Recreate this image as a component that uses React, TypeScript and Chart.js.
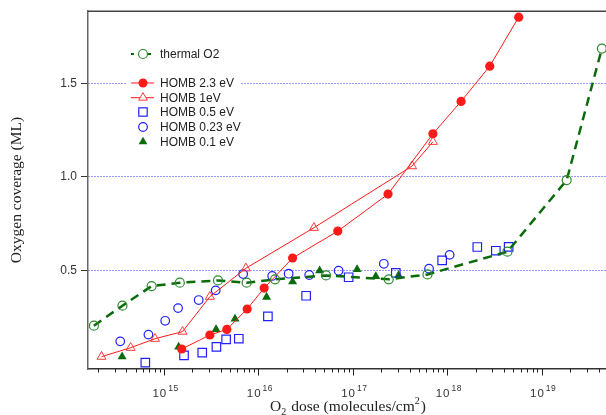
import React, { useEffect, useRef } from 'react';
import { Chart, registerables } from 'chart.js';

Chart.register(...registerables);

// ---- data (dose in molecules/cm^2, coverage in ML) ----
const thermalDose = [1.81e14, 3.63e14, 7.4e14, 1.47e15, 3.73e15, 7.5e15, 1.5e16, 5.2e16, 2.4e17, 6.17e17, 4.34e18, 1.84e19, 4.34e19];
const thermalCov = [0.204, 0.311, 0.416, 0.434, 0.446, 0.434, 0.452, 0.473, 0.452, 0.478, 0.6, 0.983, 1.687];

const homb23Dose = [1.54e15, 3.06e15, 4.63e15, 7.6e15, 1.15e16, 2.3e16, 6.93e16, 2.36e17, 7.05e17, 1.4e18, 2.82e18, 5.71e18];
const homb23Cov = [0.079, 0.154, 0.184, 0.293, 0.405, 0.566, 0.71, 0.908, 1.231, 1.404, 1.593, 1.855];

const homb1Dose = [2.18e14, 4.43e14, 8.03e14, 1.57e15, 3.06e15, 7.36e15, 3.87e16, 4.24e17, 7.05e17];
const homb1Cov = [0.038, 0.086, 0.134, 0.172, 0.359, 0.511, 0.728, 1.058, 1.188];

const homb05Dose = [6.34e14, 1.63e15, 2.54e15, 3.59e15, 4.55e15, 6.2e15, 1.26e16, 3.2e16, 9.03e16, 2.85e17, 8.83e17, 2.08e18, 3.27e18, 4.47e18];
const homb05Cov = [0.006, 0.045, 0.06, 0.09, 0.131, 0.134, 0.254, 0.364, 0.463, 0.487, 0.553, 0.625, 0.605, 0.626];

const homb023Dose = [3.44e14, 6.84e14, 1.03e15, 1.41e15, 2.33e15, 3.53e15, 6.89e15, 1.4e16, 2.09e16, 3.45e16, 7.06e16, 2.13e17, 6.41e17, 1.06e18];
const homb023Cov = [0.12, 0.156, 0.23, 0.298, 0.341, 0.393, 0.48, 0.47, 0.482, 0.475, 0.498, 0.535, 0.509, 0.583];

const homb01Dose = [3.6e14, 1.43e15, 3.56e15, 5.65e15, 1.22e16, 2.3e16, 4.45e16, 1.11e17, 1.75e17, 3.05e17];
const homb01Cov = [0.038, 0.09, 0.184, 0.24, 0.357, 0.439, 0.498, 0.505, 0.468, 0.473];

const yTickValues = [0.5, 1.0, 1.5];
const xLabelExponents = [15, 16, 17, 18, 19];
const legendLabels = ['thermal O2', 'HOMB 2.3 eV', 'HOMB 1eV', 'HOMB 0.5 eV', 'HOMB 0.23 eV', 'HOMB 0.1 eV'];

const X_MIN = 1.567e14;
const X_MAX = 4.8e19;
const Y_MIN = -0.028;
const Y_MAX = 1.887;

const GREEN_LINE = '#0b6b0b';
const GREEN_PT = '#2a8a2a';
const RED = '#ff1a1a';
const RED_LIGHT = '#ff3a3a';
const BLUE = '#2020ff';
const SANS = '"Liberation Sans", Arial, sans-serif';
const SERIF = '"Liberation Serif", "Times New Roman", serif';

const pts = (xs: number[], ys: number[]) => xs.map((x, i) => ({ x, y: ys[i] }));

function triangle(ctx: CanvasRenderingContext2D, x: number, y: number, r: number) {
  ctx.beginPath();
  ctx.moveTo(x, y - r);
  ctx.lineTo(x + r * Math.sin((2 * Math.PI) / 3), y - r * Math.cos((2 * Math.PI) / 3));
  ctx.lineTo(x + r * Math.sin((4 * Math.PI) / 3), y - r * Math.cos((4 * Math.PI) / 3));
  ctx.closePath();
}

const decorPlugin = {
  id: 'decor',
  afterDatasetsDraw(chart: any) {
    const ctx: any = chart.ctx;
    const { left, right, top, bottom } = chart.chartArea;
    const xs = chart.scales.x;
    ctx.save();

    // top frame line
    ctx.strokeStyle = '#444';
    ctx.lineWidth = 1.5;
    ctx.beginPath();
    ctx.moveTo(left, top);
    ctx.lineTo(right, top);
    ctx.stroke();

    // x ticks (log minor + major)
    ctx.strokeStyle = '#222';
    ctx.lineWidth = 1;
    for (let n = 13; n <= 20; n++) {
      for (let k = 1; k <= 9; k++) {
        const v = k * Math.pow(10, n);
        if (v < xs.min || v > xs.max) continue;
        const px = Math.round(xs.getPixelForValue(v)) + 0.5;
        ctx.beginPath();
        ctx.moveTo(px, bottom);
        ctx.lineTo(px, bottom + (k === 1 ? 6.5 : 3.5));
        ctx.stroke();
      }
    }

    // x tick labels 10^n
    ctx.fillStyle = '#333';
    ctx.textBaseline = 'alphabetic';
    ctx.textAlign = 'left';
    for (const e of xLabelExponents) {
      const px = xs.getPixelForValue(Math.pow(10, e));
      ctx.letterSpacing = '1px';
      ctx.font = `11.5px ${SANS}`;
      const w1 = ctx.measureText('10').width;
      ctx.letterSpacing = '0.5px';
      ctx.font = `8.5px ${SANS}`;
      const w2 = ctx.measureText(String(e)).width;
      const start = px + 1.5 - (w1 + w2 + 1) / 2;
      ctx.letterSpacing = '1px';
      ctx.font = `11.5px ${SANS}`;
      ctx.fillText('10', start, 397);
      ctx.letterSpacing = '0.5px';
      ctx.font = `8.5px ${SANS}`;
      ctx.fillText(String(e), start + w1 + 1, 390.5);
    }
    ctx.letterSpacing = '0px';

    // x title
    ctx.fillStyle = '#222';
    const parts: [string, number, number][] = [
      ['O', 15.5, 0],
      ['2', 10, 4],
      [' dose (molecules/cm', 15.5, 0],
      ['2', 10, -7],
      [')', 15.5, 0],
    ];
    let total = 0;
    for (const [t, s] of parts) {
      ctx.font = `${s}px ${SERIF}`;
      total += ctx.measureText(t).width + (s === 10 ? 1 : 0);
    }
    let cx = 348 - total / 2;
    for (const [t, s, dy] of parts) {
      ctx.font = `${s}px ${SERIF}`;
      ctx.fillText(t, cx, 411 + dy);
      cx += ctx.measureText(t).width + (s === 10 ? 1 : 0);
    }

    // y title
    ctx.save();
    ctx.translate(21, 190);
    ctx.rotate(-Math.PI / 2);
    ctx.textAlign = 'center';
    ctx.font = `15.5px ${SERIF}`;
    ctx.fillText('Oxygen coverage (ML)', 0, 0);
    ctx.restore();

    // legend
    ctx.fillStyle = '#fff';
    ctx.fillRect(127, 42, 114, 108);
    const mx = 143;
    const tx = 160;
    const rows = [54, 83, 97.7, 112, 127, 141.7];
    ctx.font = `12px ${SANS}`;
    ctx.textBaseline = 'middle';
    ctx.textAlign = 'left';
    rows.forEach((y, i) => {
      ctx.lineWidth = 1;
      if (i === 0) {
        ctx.strokeStyle = GREEN_LINE;
        ctx.lineWidth = 2;
        ctx.beginPath();
        ctx.moveTo(131, y); ctx.lineTo(134, y);
        ctx.moveTo(147.5, y); ctx.lineTo(151, y);
        ctx.stroke();
        ctx.lineWidth = 1.2;
        ctx.strokeStyle = GREEN_PT;
        ctx.beginPath(); ctx.arc(mx, y, 4.5, 0, Math.PI * 2); ctx.stroke();
      } else if (i === 1) {
        ctx.strokeStyle = RED;
        ctx.beginPath(); ctx.moveTo(131, y); ctx.lineTo(154, y); ctx.stroke();
        ctx.fillStyle = RED;
        ctx.beginPath(); ctx.arc(mx, y, 4.5, 0, Math.PI * 2); ctx.fill();
      } else if (i === 2) {
        ctx.strokeStyle = RED;
        ctx.beginPath(); ctx.moveTo(131, y); ctx.lineTo(154, y); ctx.stroke();
        ctx.fillStyle = '#fff';
        triangle(ctx, mx, y, 5);
        ctx.fill();
        ctx.strokeStyle = RED_LIGHT;
        ctx.stroke();
      } else if (i === 3) {
        ctx.strokeStyle = BLUE;
        ctx.lineWidth = 1.2;
        ctx.strokeRect(mx - 4.2, y - 4.2, 8.4, 8.4);
      } else if (i === 4) {
        ctx.strokeStyle = BLUE;
        ctx.lineWidth = 1.2;
        ctx.beginPath(); ctx.arc(mx, y, 4.3, 0, Math.PI * 2); ctx.stroke();
      } else {
        ctx.fillStyle = GREEN_LINE;
        triangle(ctx, mx, y, 5);
        ctx.fill();
      }
      ctx.fillStyle = '#222';
      ctx.fillText(legendLabels[i], tx, y + 0.5);
    });

    ctx.restore();
  },
};

export default function App() {
  const ref = useRef<HTMLCanvasElement>(null);
  useEffect(() => {
    if (!ref.current) return;
    const chart = new Chart(ref.current, {
      type: 'line',
      data: {
        datasets: [
          {
            label: legendLabels[0],
            data: pts(thermalDose, thermalCov),
            borderColor: GREEN_LINE,
            borderWidth: 2.5,
            borderDash: [9, 6],
            pointStyle: 'circle',
            pointRadius: 4.5,
            pointBorderWidth: 1.2,
            pointBorderColor: GREEN_PT,
            pointBackgroundColor: 'rgba(0,0,0,0)',
            showLine: true,
            tension: 0,
          },
          {
            label: legendLabels[1],
            data: pts(homb23Dose, homb23Cov),
            borderColor: RED,
            borderWidth: 1,
            pointStyle: 'circle',
            pointRadius: 4.6,
            pointBorderWidth: 0,
            pointBackgroundColor: RED,
            pointBorderColor: RED,
            showLine: true,
            tension: 0,
          },
          {
            label: legendLabels[2],
            data: pts(homb1Dose, homb1Cov),
            borderColor: RED,
            borderWidth: 1,
            pointStyle: 'triangle',
            pointRadius: 5.2,
            pointBorderWidth: 1,
            pointBorderColor: RED_LIGHT,
            pointBackgroundColor: 'rgba(255,255,255,0)',
            showLine: true,
            tension: 0,
          },
          {
            label: legendLabels[3],
            data: pts(homb05Dose, homb05Cov),
            showLine: false,
            pointStyle: 'rect',
            pointRadius: 6,
            pointBorderWidth: 1.2,
            pointBorderColor: BLUE,
            pointBackgroundColor: 'rgba(0,0,0,0)',
          },
          {
            label: legendLabels[4],
            data: pts(homb023Dose, homb023Cov),
            showLine: false,
            pointStyle: 'circle',
            pointRadius: 4.3,
            pointBorderWidth: 1.2,
            pointBorderColor: BLUE,
            pointBackgroundColor: 'rgba(0,0,0,0)',
          },
          {
            label: legendLabels[5],
            data: pts(homb01Dose, homb01Cov),
            showLine: false,
            pointStyle: 'triangle',
            pointRadius: 5.2,
            pointBorderWidth: 0,
            pointBorderColor: GREEN_LINE,
            pointBackgroundColor: GREEN_LINE,
          },
        ],
      },
      options: {
        animation: false,
        responsive: false,
        maintainAspectRatio: false,
        layout: { autoPadding: false, padding: { top: 11, right: 0, left: 0, bottom: 0 } },
        plugins: {
          legend: { display: false },
          tooltip: { enabled: false },
        },
        scales: {
          x: {
            type: 'logarithmic',
            min: X_MIN,
            max: X_MAX,
            ticks: { display: false },
            grid: { drawOnChartArea: false, drawTicks: false },
            border: { display: true, color: '#333', width: 1.5 },
            afterFit: (s: any) => {
              s.height = 46;
            },
          },
          y: {
            type: 'linear',
            min: Y_MIN,
            max: Y_MAX,
            afterBuildTicks: (s: any) => {
              s.ticks = yTickValues.map((v) => ({ value: v }));
            },
            ticks: {
              color: '#333',
              font: { family: SANS, size: 12 },
              padding: 4,
              callback: (v: any) => Number(v).toFixed(1),
            },
            grid: {
              color: 'rgba(40,40,255,0.95)',
              lineWidth: 1,
              drawTicks: true,
              tickLength: 7,
              tickColor: '#333',
              tickWidth: 1,
            },
            border: { display: true, color: '#666', width: 1.5, dash: [1, 2] },
            afterFit: (s: any) => {
              s.width = 88;
            },
          },
        },
      },
      plugins: [decorPlugin],
    });
    return () => chart.destroy();
  }, []);
  return (
    <div style={{ position: 'absolute', left: 0, top: 0, width: 606, height: 415, background: '#fff' }}>
      <canvas ref={ref} width={606} height={415} />
    </div>
  );
}
